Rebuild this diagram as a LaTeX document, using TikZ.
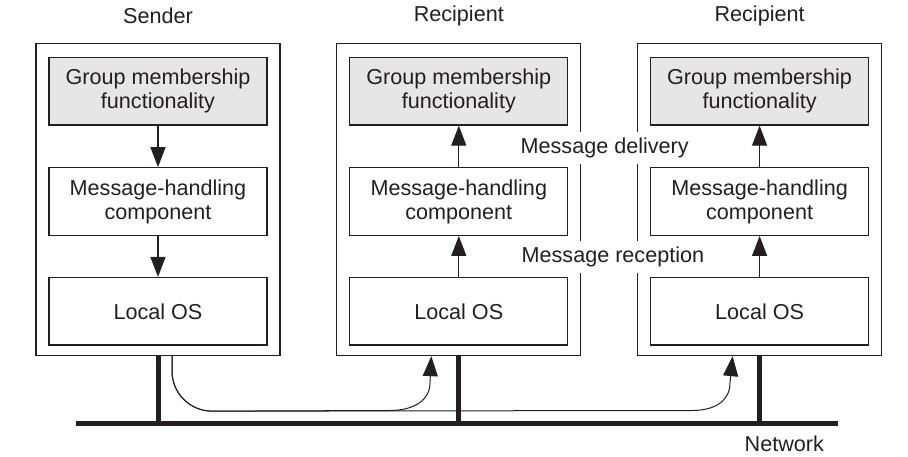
\documentclass[tikz,border=0pt]{standalone}
\usepackage{fontspec}
\setmainfont{Liberation Sans}
\usetikzlibrary{positioning, arrows.meta}
\definecolor{ink}{RGB}{35,31,32}
\definecolor{gmfill}{RGB}{230,230,230}

\begin{document}
\begin{tikzpicture}[x=1pt, y=-1pt, ink, line width=1.3pt,
    font=\fontsize{21.6pt}{24pt}\selectfont,
    host/.style={draw, minimum width=244pt, minimum height=312pt, inner sep=0pt},
    layer/.style={draw, minimum width=218pt, minimum height=67.5pt, inner sep=0pt, align=center},
    gm/.style={layer, fill=gmfill},
    title/.style={inner sep=0pt, text depth=0pt},
    lbl/.style={fill=white, inner xsep=3pt, inner ysep=6pt},
    up/.style={-{Triangle[length=20pt,width=15pt]}},
    wire/.style={line width=5pt},
    flow/.style={line width=1pt, -{Triangle[length=20pt,width=15pt]}},
    node distance=55.5pt]
		\useasboundingbox (0,0) rectangle (908,456);

		% The three machines
		\node[host]			  (s) at (158,199.5) {};
		\node[host, right=of s]  (r1) {};
		\node[host, right=of r1] (r2) {};

		\node[title, above=19pt of s.north]  {Sender};
		\node[title, above=21pt of r1.north] {Recipient};
		\node[title, above=21pt of r2.north] {Recipient};

		% Layers of the sender
		\node[gm, below=14pt of s.north] (s-gm) {Group membership\\functionality};
		\node[layer, below=41.5pt of s-gm] (s-mh) {Message-handling\\component};
		\node[layer, below=41pt of s-mh]   (s-os) {Local OS};

		% Layers of the recipients
		\node[gm, below=14pt of r1.north] (r1-gm) {Group membership\\functionality};
		\node[layer, below=41.5pt of r1-gm] (r1-mh) {Message-handling\\component};
		\node[layer, below=41pt of r1-mh]   (r1-os) {Local OS};

		\node[gm, below=14pt of r2.north] (r2-gm) {Group membership\\functionality};
		\node[layer, below=41.5pt of r2-gm] (r2-mh) {Message-handling\\component};
		\node[layer, below=41pt of r2-mh]   (r2-os) {Local OS};

		% Arrows between the layers
		\draw[up] (s-gm) -- (s-mh);
		\draw[up] (s-mh) -- (s-os);
		\draw[up] (r1-os) -- (r1-mh);
		\draw[up] (r1-mh) -- (r1-gm);
		\draw[up] (r2-os) -- (r2-mh);
		\draw[up] (r2-mh) -- (r2-gm);

		% The network
		\coordinate (netw) at (76,423.5);
		\coordinate (nete) at (838,423.5);
		\draw[wire] (netw) -- (nete);
		\draw[wire] (s.south) -- (s.south |- netw);
		\draw[wire] (r1.south) -- (r1.south |- netw);
		\draw[wire] (r2.south) -- (r2.south |- netw);
		\node[title, anchor=base west] (netname) at (744,451.5) {Network};

		% Message going out to the recipients
		\draw[flow] ([xshift=14pt]s.south) -- ++(0,15)
			.. controls +(0,22) and +(-22,0) .. ++(40,40) -- (390,410.5)
			.. controls +(24,0) and +(0,17) .. (430,383)
			-- ([xshift=-27.5pt]r1.south);
		\draw[flow] ([xshift=14pt]s.south) -- ++(0,15)
			.. controls +(0,22) and +(-22,0) .. ++(40,40) -- (692,410.5)
			.. controls +(24,0) and +(0,17) .. (730,383)
			-- ([xshift=-27pt]r2.south);

		% Labels across the boxes
		\node[lbl, anchor=west] (dlv) at (517,148) {Message delivery};
		\node[lbl, anchor=west] (rcp) at (518,257) {Message reception};
	\end{tikzpicture}
\end{document}
